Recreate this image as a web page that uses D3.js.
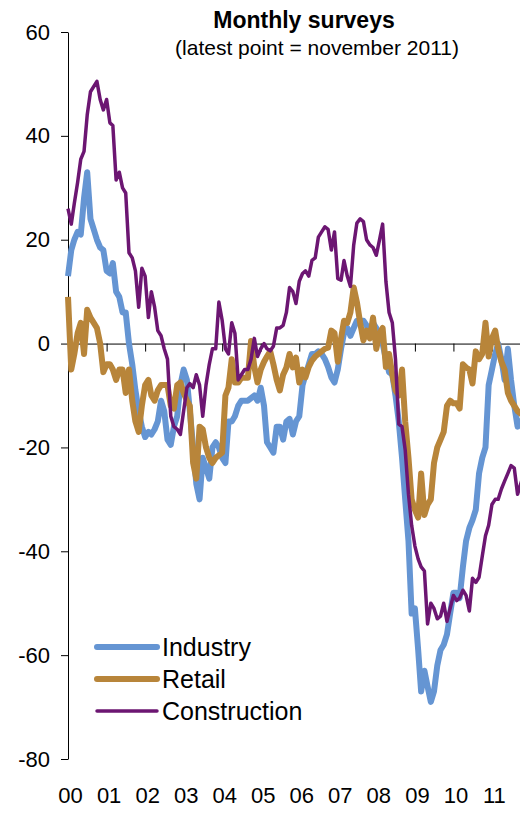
<!DOCTYPE html>
<html>
<head>
<meta charset="utf-8">
<script src="https://cdn.jsdelivr.net/npm/d3@7"></script>
<style>
  body { margin: 0; background: #fff; }
  svg { display: block; font-family: "Liberation Sans", Arial, sans-serif; }
  .axis path, .axis line { stroke: #000; stroke-width: 1; }
  .axis text { font-size: 22px; fill: #000; }
</style>
</head>
<body>
<div class="chart"></div>
<script>
// monthly values, jan 2000 .. nov 2011
const startYear = 2000;
const yearLabels = ['00','01','02','03','04','05','06','07','08','09','10','11'];
const yTicks = [-80, -60, -40, -20, 0, 20, 40, 60];

const industry = [
  13, 18, 20, 21.5, 21, 28, 33, 24, 22, 20, 18.5, 18,
  14, 13.5, 15.5, 10, 9, 6, 6, 0, -4, -9, -13, -16,
  -18, -17, -17.5, -16.5, -15, -11, -13, -18.5, -19.5, -16, -14, -8,
  -5, -7, -13, -20, -27, -30, -22, -24, -26, -20, -19, -20,
  -22, -23, -15, -15, -14, -12, -11, -11, -11, -10.5, -10, -11,
  -8.5, -12, -19, -20, -21, -16, -16, -18.5, -15, -14.5, -17.5, -15,
  -14, -8, -6, -4, -2, -2, -1.5, -2, -3, -4.5, -6.5, -7.5,
  -5, -1, 2, 3, 1.5, 3, 4.4, 4.4, 4.4, 3.5, 1.5, 4,
  3, 1, 0, -3, -5.5, -6, -10, -15, -22, -30, -38, -52,
  -51, -59, -67, -63, -66, -69, -67, -62, -59, -58, -56, -52,
  -48, -48, -49, -43, -38, -35.5, -34, -32, -25, -22, -20, -8,
  -5, -2, 0, -3, -7, -1, -7, -12, -16, -15, -14
];

const retail = [
  9, -5, -2, 2, 4, -2, 6.5, 5, 4, 3, 0, -5.5,
  -4, -4, -5, -7, -5, -5, -9.5, -5, -11, -15, -17, -12,
  -8, -7, -10, -11, -9, -8, -8, -8, -12, -12.5, -8, -7.5,
  -9.5, -11, -12, -23, -26, -16, -16.5, -20, -22, -23, -22, -21.5,
  -21, -10, -8.5, -3, -7.5, -7.5, -6.6, -6.6, -6.6, 0.5, -4.5, -7.5,
  -5, -3.5, -2.5, -1.5, -4, -7, -9, -6, -4.6, -2, -4.6, -2.7,
  -7.5, -5, -6.5, -4.5, -3.3, -2.5, -2, -1.5, -1, -0.8, 2.5, 2,
  -3.5, 1, 4.4, 4, 6, 10.8, 8, 4, 0.6, 2.5, 1, 5,
  -1, 2, 3, -4.5, -2, -6, -9, -10, -5, -15, -22, -30,
  -32, -33.5, -25, -33, -31, -30, -23, -20, -18.5, -17, -12, -11,
  -11.5, -11.5, -12.5, -4, -4.6, -5, -7.7, -1.5, -3, -2, 4, -2.5,
  1, 2.5, -1, -3.5, -5, -9.5, -11, -12, -13, -13.5, -13
];

const construction = [
  26, 23, 27, 31, 35.5, 37, 44, 48.5, 49.5, 50.5, 47, 45,
  47, 42.5, 42, 31.5, 33, 30, 29, 17.5, 16.5, 14, 7, 14.5,
  13, 5, 10, 7, 2.5, 1.5, -1, -3, -14, -16, -16.5, -17.5,
  -13, -8.5, -7.7, -8.5, -6, -8, -14, -8, -4, -1, -1, 8,
  4.5, -1, -2, 4, 2, -7, -6, -5, -5, -3, 1, -2.5,
  -1, 0, -1, -1.4, -0.5, 3, 3, 3.5, 6, 10.8, 10, 7.7,
  12, 13.5, 14, 13, 16, 16.5, 20.5, 21.5, 22.5, 22, 18, 21.5,
  12.5, 12.2, 16, 13, 11, 19, 23.2, 24, 23.5, 20, 19, 18.5,
  17, 20, 23, 12, 6, 4, -3, -15.5, -16, -20.5, -29, -35,
  -39, -41.5, -43, -43.8, -54, -50, -51, -53, -52.5, -50, -53.5, -51,
  -48.5, -49.5, -49, -47.5, -48.5, -51.5, -45.2, -46, -45, -41, -37, -35,
  -31, -30, -30, -28, -26.5, -25, -23.5, -24, -29, -27, -25
];

const seriesNames = ['Industry', 'Retail', 'Construction'];
const seriesColors = ['#6595d3', '#b8853a', '#6c1672'];
const seriesWidths = [6, 6, 3.5];

const width = 520;
const height = 813;

const svg = d3.select('.chart').append('svg')
	.attr('width', width)
	.attr('height', height);

const months = industry.map((d, i) => new Date(startYear, i, 1));

const xScale = d3.scaleTime()
	.domain([months[0], months[months.length - 1]])
	.range([68, 524]);

const yScale = d3.scaleLinear()
	.domain([-80, 60])
	.range([759, 32]);

// y axis
const yAxis = d3.axisLeft()
	.scale(yScale)
	.tickValues(yTicks)
	.tickFormat(d => String(d))
	.tickSizeInner(7)
	.tickSizeOuter(0)
	.tickPadding(11);

svg.append('g')
	.attr('class', 'axis y-axis')
	.attr('transform', 'translate(68,0)')
	.call(yAxis);

// x axis on the zero line, ticks only
const yearTicks = yearLabels.map((d, i) => new Date(startYear + i, 0, 1));

const xAxis = d3.axisBottom()
	.scale(xScale)
	.tickValues(yearTicks)
	.tickFormat('')
	.tickSizeInner(8)
	.tickSizeOuter(0);

svg.append('g')
	.attr('class', 'axis x-axis')
	.attr('transform', `translate(0, ${yScale(0)})`)
	.call(xAxis);

// year labels at bottom
const xLabels = d3.axisBottom()
	.scale(xScale)
	.tickValues(yearTicks)
	.tickFormat((d, i) => yearLabels[i])
	.tickSize(0)
	.tickPadding(0);

svg.append('g')
	.attr('class', 'axis x-labels')
	.attr('transform', 'translate(2, 787)')
	.call(xLabels)
	.call(g => g.select('.domain').remove());

// lines
const line = d3.line()
	.x((d, i) => xScale(months[i]))
	.y(d => yScale(d));

[industry, retail, construction].forEach((values, k) => {
	svg.append('path')
		.datum(values)
		.attr('class', 'line')
		.attr('fill', 'none')
		.attr('stroke', seriesColors[k])
		.attr('stroke-width', seriesWidths[k])
		.attr('stroke-linejoin', 'round')
		.attr('d', line);
});

// title
svg.append('text')
	.attr('x', 304)
	.attr('y', 28)
	.attr('text-anchor', 'middle')
	.attr('font-size', '23px')
	.attr('font-weight', 'bold')
	.text('Monthly surveys');

svg.append('text')
	.attr('x', 317)
	.attr('y', 55)
	.attr('text-anchor', 'middle')
	.attr('font-size', '21px')
	.text('(latest point = november 2011)');

// legend
const legend = svg.append('g')
	.attr('class', 'legend')
	.attr('transform', 'translate(97, 647)');

seriesNames.forEach((name, k) => {
	const row = legend.append('g')
		.attr('transform', `translate(0, ${k * 32})`);
	row.append('line')
		.attr('x1', 0)
		.attr('x2', 60)
		.attr('stroke', seriesColors[k])
		.attr('stroke-width', seriesWidths[k])
		.attr('stroke-linecap', 'round');
	row.append('text')
		.attr('x', 65)
		.attr('y', 9)
		.attr('font-size', '25px')
		.text(name);
});
</script>
</body>
</html>
